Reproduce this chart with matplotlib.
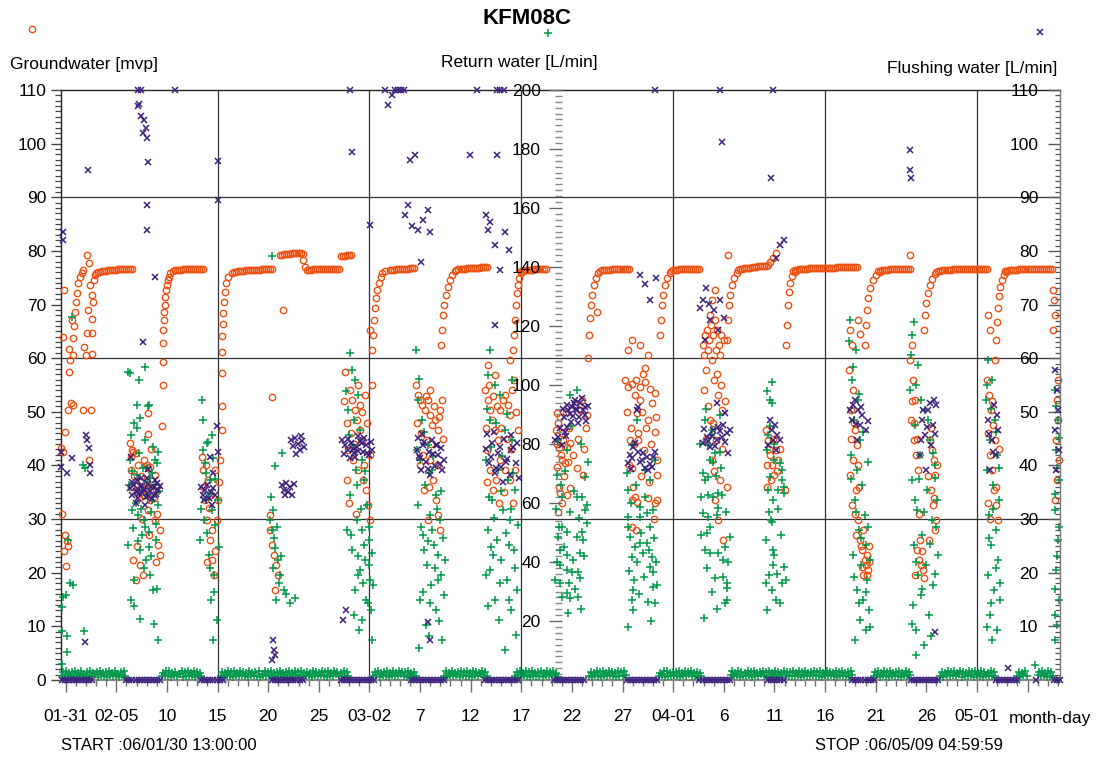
import matplotlib
matplotlib.use("Agg")
import matplotlib.pyplot as plt
from matplotlib.ticker import MultipleLocator, FixedLocator, FixedFormatter
from matplotlib.lines import Line2D
import matplotlib.font_manager as fm


def have(name):
    try:
        fm.findfont(fm.FontProperties(family=name), fallback_to_default=False)
        return True
    except Exception:
        return False


if have('Liberation Sans Narrow'):
    FAM, FS, TS = ['Liberation Sans Narrow', 'DejaVu Sans'], 14.5, 19
else:
    FAM, FS, TS = ['Liberation Sans', 'DejaVu Sans'], 12.5, 16
plt.rcParams['font.family'] = FAM

# ---------------- data (x = days since 2006-01-30 00:00) ----------------
x_start, x_stop = 0.5417, 99.2083           # 06/01/30 13:00 .. 06/05/09 05:00
major_days = [1, 6, 11, 16, 21, 26, 31, 36, 41, 46, 51, 56, 61, 66, 71, 76, 81, 86, 91, 96]
major_labels = ['01-31', '02-05', '10', '15', '20', '25', '03-02', '7', '12', '17', '22', '27',
                '04-01', '6', '11', '16', '21', '26', '05-01', '']
grid_days = [16, 31, 46, 61, 76, 91]
grid_levels = [30, 60, 90]

# Groundwater [mvp] : plateaus (recovered level)
gw_plateau = [
    (4.2, 76.0), (4.4, 76.1), (4.6, 76.2), (4.8, 76.3), (5.0, 76.3), (5.2, 76.4), (5.4, 76.4), (5.6, 76.5), (5.8, 76.5),
    (6.0, 76.5), (6.2, 76.6), (6.4, 76.6), (6.6, 76.6), (6.8, 76.6), (7.0, 76.7), (7.2, 76.7), (7.4, 76.7), (7.6, 76.7),
    (11.8, 76.4), (12.0, 76.5), (12.2, 76.5), (12.4, 76.5), (12.6, 76.6), (12.8, 76.6), (13.0, 76.6), (13.2, 76.6),
    (13.4, 76.7), (13.6, 76.7), (13.8, 76.7), (14.0, 76.7), (14.2, 76.7), (14.4, 76.7), (14.6, 76.7),
    (17.6, 76.0), (17.8, 76.1), (18.0, 76.2), (18.2, 76.2), (18.4, 76.3), (18.6, 76.3), (18.8, 76.4), (19.0, 76.4),
    (19.2, 76.4), (19.4, 76.5), (19.6, 76.5), (19.8, 76.5), (20.0, 76.5), (20.2, 76.5), (20.4, 76.6), (20.6, 76.6),
    (20.8, 76.6), (21.0, 76.6), (21.2, 76.6), (21.4, 76.6),
    (22.2, 79.2), (22.4, 79.3), (22.6, 79.4), (22.8, 79.5), (23.0, 79.5), (23.2, 79.5), (23.4, 79.6), (23.6, 79.6),
    (23.8, 79.6), (24.0, 79.6), (24.2, 79.6), (24.4, 79.5),
    (24.8, 76.5), (25.0, 76.5), (25.2, 76.5), (25.4, 76.6), (25.6, 76.6), (25.8, 76.6), (26.0, 76.6), (26.2, 76.6),
    (26.4, 76.6), (26.6, 76.6), (26.8, 76.6), (27.0, 76.6), (27.2, 76.6), (27.4, 76.7), (27.6, 76.7), (27.8, 76.7),
    (28.0, 76.7), (28.2, 79.0), (28.4, 79.1), (28.6, 79.1), (28.8, 79.2), (29.0, 79.2), (29.2, 79.2),
    (33.0, 76.4), (33.2, 76.5), (33.4, 76.5), (33.6, 76.6), (33.8, 76.6), (34.0, 76.6), (34.2, 76.7), (34.4, 76.7),
    (34.6, 76.7), (34.8, 76.7), (35.0, 76.8), (35.2, 76.8), (35.4, 76.8),
    (39.6, 76.5), (39.8, 76.6), (40.0, 76.6), (40.2, 76.7), (40.4, 76.7), (40.6, 76.8), (40.8, 76.8), (41.0, 76.8),
    (41.2, 76.9), (41.4, 76.9), (41.6, 76.9), (41.8, 76.9), (42.0, 77.0), (42.2, 77.0), (42.4, 77.0), (42.6, 77.0),
    (46.0, 76.2), (46.2, 76.3), (46.4, 76.4), (46.6, 76.4), (46.8, 76.5), (47.0, 76.5), (47.2, 76.5), (47.4, 76.6),
    (47.6, 76.6), (47.8, 76.6), (48.0, 76.6), (48.2, 76.6), (48.4, 76.6),
    (53.8, 76.3), (54.0, 76.4), (54.2, 76.4), (54.4, 76.5), (54.6, 76.5), (54.8, 76.5), (55.0, 76.6), (55.2, 76.6),
    (55.4, 76.6), (55.6, 76.6), (55.8, 76.6), (56.0, 76.7), (56.2, 76.7), (56.4, 76.7), (56.6, 76.7),
    (60.8, 76.3), (61.0, 76.4), (61.2, 76.5), (61.4, 76.5), (61.6, 76.6), (61.8, 76.6), (62.0, 76.6), (62.2, 76.7),
    (62.4, 76.7), (62.6, 76.7), (62.8, 76.7), (63.0, 76.7), (63.2, 76.7), (63.4, 76.7), (63.6, 76.7),
    (67.4, 76.5), (67.6, 76.6), (67.8, 76.7), (68.0, 76.8), (68.2, 76.8), (68.4, 76.9), (68.6, 76.9), (68.8, 77.0),
    (69.0, 77.0), (69.2, 77.0), (69.4, 77.1), (69.6, 77.1), (69.8, 77.1), (70.0, 77.2), (70.2, 77.2), (70.4, 77.3),
    (72.8, 76.3), (73.0, 76.4), (73.2, 76.5), (73.4, 76.6), (73.6, 76.6), (73.8, 76.7), (74.0, 76.7), (74.2, 76.7),
    (74.4, 76.8), (74.6, 76.8), (74.8, 76.8), (75.0, 76.8), (75.2, 76.8), (75.4, 76.9), (75.6, 76.9), (75.8, 76.9),
    (76.0, 76.9), (76.2, 76.9), (76.4, 76.9), (76.6, 76.9), (76.8, 76.9), (77.0, 76.9), (77.2, 77.0), (77.4, 77.0),
    (77.6, 77.0), (77.8, 77.0), (78.0, 77.0), (78.2, 77.0), (78.4, 77.0), (78.6, 77.0), (78.8, 77.0), (79.0, 77.0),
    (79.2, 77.0),
    (81.2, 76.2), (81.4, 76.3), (81.6, 76.4), (81.8, 76.5), (82.0, 76.5), (82.2, 76.5), (82.4, 76.6), (82.6, 76.6),
    (82.8, 76.6), (83.0, 76.6), (83.2, 76.6), (83.4, 76.7), (83.6, 76.7), (83.8, 76.7), (84.0, 76.7), (84.2, 76.7),
    (84.4, 76.7),
    (87.0, 76.1), (87.2, 76.2), (87.4, 76.3), (87.6, 76.4), (87.8, 76.4), (88.0, 76.5), (88.2, 76.5), (88.4, 76.5),
    (88.6, 76.6), (88.8, 76.6), (89.0, 76.6), (89.2, 76.6), (89.4, 76.6), (89.6, 76.6), (89.8, 76.7), (90.0, 76.7),
    (90.2, 76.7), (90.4, 76.7), (90.6, 76.7), (90.8, 76.7), (91.0, 76.7), (91.2, 76.7), (91.4, 76.7), (91.6, 76.7),
    (91.8, 76.7), (92.0, 76.7),
    (93.8, 76.2), (94.0, 76.3), (94.2, 76.4), (94.4, 76.4), (94.6, 76.5), (94.8, 76.5), (95.0, 76.5), (95.2, 76.6),
    (95.4, 76.6), (95.6, 76.6), (95.8, 76.6), (96.0, 76.6), (96.2, 76.6), (96.4, 76.6), (96.6, 76.6), (96.8, 76.6),
    (97.0, 76.6), (97.2, 76.6), (97.4, 76.6), (97.6, 76.6), (97.8, 76.6), (98.0, 76.6), (98.2, 76.6), (98.4, 76.6),
]

# Groundwater [mvp] : drawdown and recovery readings
gw_scatter = [
    (0.8, 72.7), (0.7, 64), (1.3, 61.7), (1.4, 59.7), (1.7, 60.6), (1.3, 57.4), (1.5, 51.6), (1.2, 50.3), (1.7, 51.3),
    (0.9, 46.2), (0.5, 43.2), (1.7, 63.7), (1.6, 67.1), (1.8, 66), (1.9, 68.6), (2.0, 70.5), (2.1, 72.1), (2.2, 74),
    (2.4, 75.1), (2.6, 75.9), (2.7, 76.4), (3.1, 79.2), (3.3, 77.7), (3.4, 73.6), (3.6, 71.8), (3.7, 70.5), (3.2, 69),
    (3.6, 67.3), (3.1, 64.7), (3.6, 64.7), (2.8, 62.1), (3.0, 60.6), (3.6, 60.8), (2.7, 50.3), (3.5, 50.3), (3.3, 41),
    (3.8, 74.5), (3.9, 75.5), (4.0, 75.9), (0.7, 42.5), (0.9, 27), (1.1, 26), (1.0, 21.3), (1.2, 25), (0.6, 31), (0.8, 24),
    (7.4, 44.2), (7.6, 42.9), (7.7, 42.5), (7.9, 42.3), (7.5, 41.6), (7.5, 39.1), (9.0, 40.1), (9.1, 39.5), (9.3, 39.7),
    (9.8, 38.2), (9.1, 49.8), (9.1, 45.9), (10.5, 47.3), (8.0, 36.4), (8.3, 35.4), (8.6, 34.5), (8.9, 35.8), (9.3, 33.6),
    (9.6, 35), (10.0, 36.2), (8.2, 33.9), (9.1, 31.7), (9.8, 29.8), (10.3, 28), (10.1, 25.2), (8.3, 21.4), (8.6, 19.6),
    (7.7, 22.4), (7.9, 18.6), (10.3, 23.3),
    (7.5, 36), (7.8, 38), (8.1, 40), (8.4, 38), (8.7, 41), (9.0, 37), (9.4, 43), (9.7, 34), (10.0, 31), (8.5, 30),
    (9.2, 27), (9.9, 22), (8.0, 25),
    (10.6, 62.8), (10.6, 59.3), (10.6, 55), (10.6, 65.2), (10.7, 67.1), (10.7, 68.6), (10.8, 69.9), (10.8, 71.4),
    (10.9, 72.7), (11.0, 73.6), (11.1, 74.6), (11.2, 75.1), (11.3, 75.9), (11.6, 76.3),
    (14.5, 41.6), (14.6, 39.1), (14.8, 33.6), (15.0, 29.8), (15.3, 26.1), (15.5, 22.4), (15.7, 19.6), (15.9, 29.8),
    (16.0, 33.6), (15.8, 39.1), (15.1, 37.3), (15.4, 34.5), (16.4, 51), (16.4, 57.2), (16.4, 61.2), (16.4, 46.6),
    (14.6, 36), (14.9, 40), (15.2, 32), (15.5, 28), (15.8, 24), (16.1, 37), (16.2, 41), (15.0, 22),
    (16.4, 64.1), (16.5, 66.4), (16.5, 68.4), (16.6, 70.5), (16.7, 72.3), (16.8, 74), (17.0, 75.1), (17.4, 75.9),
    (21.4, 52.8), (22.5, 69), (21.2, 28), (21.4, 25.2), (21.6, 23.3), (21.8, 21.4), (21.7, 16.8), (22.0, 19.6),
    (21.2, 30.8), (24.4, 78.3), (24.6, 77),
    (28.6, 57.4), (29.1, 54), (29.3, 52.2), (29.6, 50.3), (29.8, 48.5), (30.1, 46.6), (30.3, 44.7), (28.9, 42.9),
    (29.4, 41), (29.9, 39.1), (30.4, 37.3), (30.7, 35.4), (30.9, 32.6), (31.1, 29.8), (28.8, 37.3), (30.6, 53.1),
    (30.1, 51.3), (31.3, 55),
    (28.5, 52), (28.8, 48), (29.2, 46), (29.5, 44), (29.9, 55), (30.3, 50), (30.8, 48), (31.1, 42), (29.0, 33),
    (29.7, 31), (30.5, 40),
    (31.3, 61.5), (31.4, 64.3), (31.5, 67.1), (31.6, 69.4), (31.7, 71.2), (31.8, 72.7), (31.9, 74), (32.1, 75.1),
    (32.2, 75.9), (32.5, 76.2), (31.1, 65.2),
    (35.6, 55), (35.8, 53.1), (36.0, 52.2), (36.2, 51.3), (36.5, 50.3), (36.8, 52.2), (37.0, 49.4), (37.2, 47.5),
    (37.5, 48.5), (37.8, 46.6), (38.0, 50.3), (38.2, 52.2), (36.6, 44.7), (37.0, 41), (37.3, 37.3), (37.6, 33.6),
    (37.8, 30.8), (38.0, 28), (36.0, 40.1), (36.4, 35.4), (36.8, 29.8),
    (35.7, 48), (36.1, 46), (36.6, 53), (37.0, 54), (37.4, 51), (37.9, 49), (38.3, 45), (36.3, 42), (37.1, 44),
    (37.7, 40), (36.9, 36),
    (38.1, 62.5), (38.2, 65.2), (38.3, 68), (38.4, 69.9), (38.6, 71.8), (38.8, 73.3), (39.0, 74.6), (39.2, 75.5),
    (39.5, 76.2),
    (42.4, 54), (42.7, 52.2), (42.9, 50.3), (43.1, 48.5), (43.4, 46.6), (43.7, 44.7), (43.9, 50.3), (44.2, 52.2),
    (44.4, 53.1), (44.7, 51.3), (44.9, 49.4), (45.1, 54), (42.6, 42.9), (42.9, 39.1), (43.2, 35.4), (43.5, 37.3),
    (43.9, 41), (44.4, 39.1), (44.9, 37.3), (45.4, 39.1), (45.7, 46.6), (45.3, 55.9), (42.7, 58.7), (43.4, 56.9),
    (44.9, 59.7),
    (42.5, 47), (42.8, 55), (43.2, 53), (43.6, 51), (44.0, 47), (44.6, 45), (45.0, 43), (45.5, 50), (42.6, 37),
    (43.8, 33), (44.3, 35), (45.2, 33),
    (45.2, 61.5), (45.3, 64.3), (45.4, 67.1), (45.5, 69.9), (45.6, 72.1), (45.7, 73.6), (45.8, 74.9), (46.0, 75.9),
    (49.5, 49.8), (49.8, 49), (49.6, 47.9), (49.4, 46.6), (50.0, 46), (50.1, 44.7), (50.5, 43.4), (50.8, 44.2),
    (49.7, 43.3), (50.0, 41), (49.5, 39.7), (50.3, 40.5), (50.6, 40.6), (51.5, 39.5), (52.1, 38.2), (49.8, 34.9),
    (50.5, 34.5), (50.8, 35.8), (50.0, 33), (49.6, 31.3), (51.8, 50.3), (52.0, 52.2), (51.3, 51.3), (52.5, 49.4),
    (49.5, 44), (49.9, 42), (50.2, 38), (50.7, 47), (51.1, 42), (51.6, 45), (52.2, 43), (52.4, 47), (50.4, 50),
    (49.7, 36),
    (52.7, 64.3), (52.8, 67.5), (52.9, 69.9), (53.0, 71.8), (53.2, 73.6), (53.4, 74.9), (53.6, 75.9), (53.5, 68.6),
    (52.6, 60),
    (56.2, 55.9), (56.5, 54.6), (56.9, 55.2), (57.3, 55.9), (57.7, 54.6), (58.2, 55.5), (58.7, 54.2), (59.2, 53.5),
    (57.2, 53.1), (57.7, 52.2), (58.9, 51.6), (57.4, 49.8), (58.5, 48.5), (57.5, 44.7), (58.1, 42.9), (59.4, 41),
    (59.2, 46.2), (56.7, 44.7), (56.9, 39.5), (57.0, 36), (57.2, 34.1), (56.9, 33.6), (57.4, 33.2), (58.5, 33.9),
    (59.2, 33), (59.4, 33.6), (56.9, 28.5), (59.4, 38.2), (56.5, 61.5), (56.9, 63.4), (57.7, 62.5), (58.5, 60.6),
    (58.2, 58.2),
    (56.4, 50), (56.8, 47), (57.1, 44), (57.5, 46), (57.9, 50), (58.3, 47), (58.8, 44), (59.3, 49), (56.6, 40),
    (57.8, 38), (58.6, 37), (59.1, 30), (57.3, 28), (58.0, 57),
    (59.7, 64.3), (59.8, 67.1), (59.9, 69.9), (60.0, 71.8), (60.2, 73.6), (60.4, 74.9), (60.7, 75.9),
    (63.9, 62.5), (64.1, 64.3), (64.3, 65.2), (64.5, 63.4), (64.7, 66.2), (64.9, 64.3), (65.1, 67.1), (65.3, 65.2),
    (65.5, 62.5), (65.7, 64.3), (64.0, 60.6), (64.4, 61.5), (64.8, 59.7), (65.2, 61.5), (65.6, 60.6), (66.0, 63.4),
    (64.6, 68), (64.2, 57.8), (65.0, 55.9), (65.4, 53.1), (65.8, 50.3), (64.6, 48.5), (65.2, 44.7), (64.8, 41),
    (65.6, 37.3), (65.1, 33.6), (65.4, 29.8), (65.9, 26.1), (64.8, 70.8), (65.1, 72.7),
    (64.0, 54), (64.4, 51), (64.9, 48), (65.3, 57), (65.7, 55), (66.1, 52), (64.2, 45), (65.0, 39), (65.8, 43),
    (66.3, 36),
    (66.3, 63.4), (66.4, 67.1), (66.5, 69.9), (66.6, 71.8), (66.8, 73.6), (67.0, 74.9), (67.3, 75.9), (66.4, 79.2),
    (70.6, 77.9), (70.9, 78.7), (71.2, 79.6),
    (70.2, 46.6), (70.4, 44.7), (70.6, 41.9), (70.8, 40.1), (71.0, 38.2), (71.2, 42.9), (71.4, 41), (70.3, 40.1),
    (70.7, 37.3), (72.0, 35.4), (70.5, 43), (70.9, 45), (71.3, 39), (71.6, 43), (70.3, 36),
    (72.1, 62.5), (72.2, 66.2), (72.3, 69.9), (72.4, 72.3), (72.5, 74), (72.7, 75.3), (73.0, 76.1),
    (78.5, 65.2), (78.7, 62.5), (78.4, 57.8), (78.8, 54), (78.6, 50.3), (79.0, 46.6), (79.2, 43.8), (78.8, 41),
    (78.5, 38.2), (79.1, 35.4), (78.7, 32.6), (79.3, 29.8), (79.5, 26.1), (79.7, 24.2), (79.9, 22.4), (80.0, 21.4),
    (80.2, 20.5), (79.8, 19.6), (80.1, 23.3), (79.6, 25), (80.3, 22), (79.1, 27),
    (78.6, 45), (78.9, 48), (79.3, 40), (79.4, 36), (79.0, 31), (79.8, 28), (80.3, 25), (80.1, 19.5), (79.7, 21),
    (79.9, 62.5), (80.0, 66.2), (80.1, 69), (80.2, 71.2), (80.4, 73.1), (80.7, 74.6), (81.0, 75.5), (81.4, 76.1),
    (79.3, 67.1), (79.5, 64.5),
    (84.6, 62.5), (84.4, 59.7), (84.7, 55.9), (84.9, 52.2), (84.5, 48.5), (84.8, 44.7), (85.0, 41.9), (85.2, 39.1),
    (85.4, 26.1), (85.1, 24.2), (85.3, 22.4), (85.5, 21.4), (85.7, 20.5), (84.9, 19.6), (86.6, 42.9), (86.8, 41),
    (86.9, 38.2), (86.5, 35.4), (86.7, 32.6), (87.0, 29.8), (86.4, 44.7), (86.9, 28), (86.3, 26.1), (84.4, 79.2),
    (84.6, 52), (84.8, 48), (85.1, 45), (85.3, 31), (85.6, 24), (86.2, 38), (86.5, 47), (86.8, 34), (87.1, 40),
    (85.8, 19),
    (85.8, 65.2), (85.9, 68), (85.95, 70.3), (86.2, 72.1), (86.4, 73.6), (86.6, 74.8), (86.9, 75.7),
    (92.0, 55.9), (92.2, 53.1), (92.4, 50.3), (92.6, 47.5), (92.8, 44.7), (92.3, 41.9), (92.5, 39.1), (92.7, 35.4),
    (92.9, 32.6), (93.1, 29.8), (92.1, 33), (92.3, 65.2), (92.1, 68),
    (92.1, 46), (92.5, 52), (92.9, 36), (93.2, 43), (92.3, 30),
    (92.8, 59.7), (92.9, 63.4), (93.0, 66.7), (93.1, 69.4), (93.2, 71.6), (93.3, 73.3), (93.5, 74.6), (93.7, 75.5),
    (93.9, 76.1),
    (98.5, 72.7), (98.6, 70.8), (98.7, 68), (98.5, 65.2), (98.9, 52.2), (99.0, 48.5), (98.8, 44.7), (99.1, 41),
    (98.9, 37.3), (98.7, 33.6), (99.0, 55.9),
]

# Return water [L/min] : idle readings near zero
rw_idle = [
    (0.6, 1.4), (0.9, 1.1), (1.2, 1.7), (1.5, 1.3), (1.8, 0.9), (2.1, 1.6), (2.4, 1.2), (2.7, 1.8), (3.0, 1.0),
    (3.3, 1.5), (3.6, 1.3), (3.9, 1.9), (4.2, 1.1), (4.5, 1.6), (4.8, 1.4), (5.1, 0.9), (5.4, 1.7), (5.7, 1.2),
    (6.0, 1.5), (6.3, 1.0), (6.6, 1.8), (6.9, 1.3),
    (10.5, 1.2), (10.8, 1.7), (11.1, 1.4), (11.4, 1.0), (11.7, 1.6), (12.0, 1.3), (12.3, 1.9), (12.6, 1.1),
    (12.9, 1.5), (13.2, 1.2), (13.5, 1.8), (13.8, 1.0), (14.1, 1.6), (14.4, 1.3),
    (16.3, 1.5), (16.6, 1.1), (16.9, 1.8), (17.2, 1.3), (17.5, 1.0), (17.8, 1.7), (18.1, 1.2), (18.4, 1.6),
    (18.7, 1.4), (19.0, 0.9), (19.3, 1.8), (19.6, 1.3), (19.9, 1.5), (20.2, 1.1), (20.5, 1.7), (20.8, 1.2),
    (21.1, 1.6), (21.4, 1.0), (21.7, 1.5), (22.0, 1.3), (22.3, 1.9), (22.6, 1.2), (22.9, 1.6), (23.2, 1.0),
    (23.5, 1.4), (23.8, 1.8), (24.1, 1.1), (24.4, 1.5), (24.7, 1.3), (25.0, 1.7), (25.3, 1.0), (25.6, 1.6),
    (25.9, 1.2), (26.2, 1.8), (26.5, 1.4), (26.8, 1.1), (27.1, 1.6), (27.4, 1.3), (27.7, 1.9), (28.0, 1.2),
    (28.3, 1.5), (28.6, 1.0), (28.9, 1.4),
    (31.4, 1.3), (31.7, 1.8), (32.0, 1.1), (32.3, 1.6), (32.6, 1.4), (32.9, 1.0), (33.2, 1.7), (33.5, 1.2),
    (33.8, 1.5), (34.1, 1.9), (34.4, 1.3), (34.7, 1.1), (35.0, 1.6), (35.3, 1.4), (35.6, 1.2),
    (38.4, 1.4), (38.7, 1.0), (39.0, 1.7), (39.3, 1.3), (39.6, 1.6), (39.9, 1.1), (40.2, 1.8), (40.5, 1.2),
    (40.8, 1.5), (41.1, 1.0), (41.4, 1.6), (41.7, 1.3), (42.0, 1.9), (42.3, 1.2), (42.6, 1.5),
    (45.4, 1.2), (45.7, 1.6), (46.0, 1.0), (46.3, 1.7), (46.6, 1.4), (46.9, 1.1), (47.2, 1.8), (47.5, 1.3),
    (47.8, 1.5), (48.1, 1.0), (48.4, 1.6), (48.7, 1.2), (49.0, 1.9), (49.3, 1.4), (49.6, 1.1),
    (52.7, 1.5), (53.0, 1.1), (53.3, 1.7), (53.6, 1.3), (53.9, 1.0), (54.2, 1.6), (54.5, 1.2), (54.8, 1.8),
    (55.1, 1.4), (55.4, 1.1), (55.7, 1.5), (56.0, 1.3), (56.3, 1.7),
    (59.6, 1.3), (59.9, 1.7), (60.2, 1.0), (60.5, 1.5), (60.8, 1.2), (61.1, 1.8), (61.4, 1.4), (61.7, 1.1),
    (62.0, 1.6), (62.3, 1.3), (62.6, 1.9), (62.9, 1.2), (63.2, 1.5), (63.5, 1.0), (63.8, 1.4),
    (66.7, 1.6), (67.0, 1.2), (67.3, 1.8), (67.6, 1.0), (67.9, 1.5), (68.2, 1.3), (68.5, 1.7), (68.8, 1.1),
    (69.1, 1.6), (69.4, 1.4), (69.7, 1.9), (70.0, 1.2), (70.3, 1.5), (70.6, 1.0), (70.9, 1.7), (71.2, 1.3),
    (71.5, 1.6), (71.8, 1.1), (72.1, 1.8), (72.4, 1.2), (72.7, 1.5), (73.0, 1.3), (73.3, 1.7), (73.6, 1.0),
    (73.9, 1.6), (74.2, 1.4), (74.5, 1.2), (74.8, 1.8), (75.1, 1.3), (75.4, 1.5), (75.7, 1.1), (76.0, 1.7),
    (76.3, 1.2), (76.6, 1.6), (76.9, 1.4), (77.2, 1.0), (77.5, 1.8), (77.8, 1.3), (78.1, 1.5), (78.4, 1.1),
    (78.7, 1.6),
    (80.8, 1.2), (81.1, 1.6), (81.4, 1.0), (81.7, 1.7), (82.0, 1.4), (82.3, 1.1), (82.6, 1.8), (82.9, 1.3),
    (83.2, 1.5), (83.5, 1.0), (83.8, 1.6), (84.1, 1.3), (84.4, 1.7),
    (87.4, 1.4), (87.7, 1.0), (88.0, 1.7), (88.3, 1.2), (88.6, 1.6), (88.9, 1.3), (89.2, 1.9), (89.5, 1.1),
    (89.8, 1.5), (90.1, 1.2), (90.4, 1.8), (90.7, 1.0), (91.0, 1.6), (91.3, 1.4), (91.6, 1.1), (91.9, 1.7),
    (92.2, 1.3), (92.5, 1.5), (92.8, 1.2),
    (95.0, 1.5), (95.3, 1.1), (95.6, 1.7), (95.9, 1.3),
    (97.0, 1.6), (97.3, 1.2), (97.6, 1.8), (97.9, 1.0), (98.2, 1.5), (98.5, 1.3),
]

# Return water [L/min] : second row of idle readings (slightly higher)
rw_idle_hi = [
    (0.75, 2.6), (1.05, 3.0), (1.35, 2.3), (1.65, 2.8), (1.95, 3.2), (2.25, 2.5), (2.55, 2.9), (2.85, 2.2),
    (3.15, 2.7), (3.45, 3.1), (3.75, 2.4), (4.05, 2.8), (4.35, 3.0), (4.65, 2.3), (4.95, 2.7), (5.25, 3.2),
    (5.55, 2.5), (5.85, 2.9), (6.15, 2.2), (6.45, 2.8), (6.75, 3.0),
    (10.65, 2.5), (10.95, 2.9), (11.25, 3.1), (11.55, 2.4), (11.85, 2.8), (12.15, 2.2), (12.45, 3.0),
    (12.75, 2.6), (13.05, 2.9), (13.35, 2.3), (13.65, 3.1), (13.95, 2.7), (14.25, 2.5),
    (16.45, 2.8), (16.75, 2.4), (17.05, 3.1), (17.35, 2.6), (17.65, 2.9), (17.95, 2.3), (18.25, 3.0),
    (18.55, 2.7), (18.85, 2.5), (19.15, 3.2), (19.45, 2.4), (19.75, 2.8), (20.05, 3.0), (20.35, 2.2),
    (20.65, 2.9), (20.95, 2.6), (21.25, 3.1), (21.55, 2.4), (21.85, 2.7), (22.15, 3.0), (22.45, 2.5),
    (22.75, 2.8), (23.05, 3.2), (23.35, 2.3), (23.65, 2.9), (23.95, 2.6), (24.25, 3.0), (24.55, 2.4),
    (24.85, 2.8), (25.15, 2.5), (25.45, 3.1), (25.75, 2.7), (26.05, 2.3), (26.35, 3.0), (26.65, 2.6),
    (26.95, 2.9), (27.25, 2.4), (27.55, 3.1), (27.85, 2.7), (28.15, 2.5), (28.45, 2.9), (28.75, 2.6),
    (31.55, 2.7), (31.85, 3.0), (32.15, 2.4), (32.45, 2.8), (32.75, 3.2), (33.05, 2.5), (33.35, 2.9),
    (33.65, 2.3), (33.95, 3.0), (34.25, 2.6), (34.55, 2.8), (34.85, 3.1), (35.15, 2.4), (35.45, 2.7),
    (38.55, 2.9), (38.85, 2.5), (39.15, 3.0), (39.45, 2.3), (39.75, 2.8), (40.05, 3.1), (40.35, 2.6),
    (40.65, 2.9), (40.95, 2.4), (41.25, 3.0), (41.55, 2.7), (41.85, 2.5), (42.15, 3.2), (42.45, 2.6),
    (45.55, 2.6), (45.85, 3.0), (46.15, 2.4), (46.45, 2.9), (46.75, 2.7), (47.05, 3.1), (47.35, 2.3),
    (47.65, 2.8), (47.95, 3.0), (48.25, 2.5), (48.55, 2.9), (48.85, 2.6), (49.15, 3.1), (49.45, 2.4),
    (52.85, 2.8), (53.15, 2.4), (53.45, 3.0), (53.75, 2.6), (54.05, 2.9), (54.35, 2.3), (54.65, 3.1),
    (54.95, 2.7), (55.25, 2.5), (55.55, 3.0), (55.85, 2.6), (56.15, 2.9),
    (59.75, 2.5), (60.05, 2.9), (60.35, 3.1), (60.65, 2.4), (60.95, 2.8), (61.25, 2.6), (61.55, 3.0),
    (61.85, 2.3), (62.15, 2.9), (62.45, 2.7), (62.75, 3.1), (63.05, 2.5), (63.35, 2.8), (63.65, 2.4),
    (66.85, 2.9), (67.15, 2.5), (67.45, 3.0), (67.75, 2.7), (68.05, 2.4), (68.35, 3.1), (68.65, 2.6),
    (68.95, 2.9), (69.25, 2.3), (69.55, 2.8), (69.85, 3.0), (70.15, 2.6), (70.45, 2.9), (70.75, 2.4),
    (71.05, 3.1), (71.35, 2.7), (71.65, 2.5), (71.95, 3.0), (72.25, 2.6), (72.55, 2.8), (72.85, 3.2),
    (73.15, 2.4), (73.45, 2.9), (73.75, 2.7), (74.05, 3.0), (74.35, 2.5), (74.65, 2.8), (74.95, 3.1),
    (75.25, 2.6), (75.55, 2.9), (75.85, 2.4), (76.15, 3.0), (76.45, 2.7), (76.75, 2.5), (77.05, 3.1),
    (77.35, 2.6), (77.65, 2.9), (77.95, 2.3), (78.25, 2.8), (78.55, 3.0),
    (80.95, 2.6), (81.25, 3.0), (81.55, 2.4), (81.85, 2.9), (82.15, 2.7), (82.45, 3.1), (82.75, 2.5),
    (83.05, 2.8), (83.35, 3.0), (83.65, 2.4), (83.95, 2.9), (84.25, 2.6),
    (87.55, 2.8), (87.85, 2.5), (88.15, 3.1), (88.45, 2.6), (88.75, 2.9), (89.05, 2.3), (89.35, 3.0),
    (89.65, 2.7), (89.95, 2.5), (90.25, 3.1), (90.55, 2.6), (90.85, 2.9), (91.15, 2.4), (91.45, 3.0),
    (91.75, 2.7), (92.05, 2.5), (92.35, 2.9), (92.65, 2.6),
    (95.15, 2.8), (95.45, 2.5), (95.75, 3.0),
    (97.15, 2.7), (97.45, 3.0), (97.75, 2.4), (98.05, 2.9), (98.35, 2.6),
]

# Return water [L/min] : flow during drilling
rw_flow = [
    (0.6, 24.7), (0.7, 28), (1.0, 28.8), (0.6, 16.6), (1.1, 15), (1.1, 9.5), (0.6, 5.4), (2.8, 16.6), (1.4, 32.9),
    (1.7, 32.2), (1.6, 123), (1.2, 47.5), (2.7, 72.9), (2.9, 71.9),
    (7.2, 104.4), (8.2, 101.7), (9.1, 92.9), (8.3, 88.8), (8.8, 81.4), (7.4, 74.6), (8.0, 69.5), (9.3, 68.5),
    (9.8, 66.1), (8.5, 64.4), (9.0, 62.7), (9.5, 61), (10.1, 59.3), (7.6, 57.6), (8.1, 55.9), (8.7, 54.2),
    (7.7, 51.5), (9.2, 50.2), (9.9, 47.5), (7.2, 45.8), (8.3, 44.1), (8.9, 40.7), (9.3, 35.6), (7.8, 33.9),
    (9.6, 30.5), (7.5, 27.1), (8.3, 20.7), (10.1, 13.6), (8.5, 49.2), (7.4, 104), (8.8, 106), (8.0, 93.2),
    (9.2, 93.2), (7.8, 87), (8.0, 85.4), (10.1, 77.3), (9.8, 74.6), (10.0, 73.6), (9.0, 71.9), (9.5, 70.2),
    (7.3, 66), (7.6, 71), (7.9, 60), (8.2, 77), (8.4, 58), (8.6, 72), (8.8, 52), (9.0, 67), (9.2, 45), (9.4, 57),
    (9.6, 79), (9.9, 53), (10.2, 64), (7.5, 83), (8.1, 47), (8.7, 38), (9.4, 42), (10.0, 31), (7.8, 25), (9.7, 19),
    (14.5, 94.9), (15.0, 80.3), (14.6, 78), (14.8, 73.6), (15.6, 75.3), (15.1, 80.7), (15.3, 67.8), (14.9, 61),
    (15.5, 57.6), (15.8, 52.5), (14.3, 47.5), (15.2, 42.4), (15.7, 35.6), (15.4, 27.1), (15.9, 20.3), (15.6, 13.6),
    (16.0, 61), (14.7, 54.2),
    (14.6, 88), (14.9, 70), (15.2, 63), (15.5, 83), (15.8, 68), (16.1, 45), (14.4, 58), (15.0, 50), (15.3, 38),
    (15.7, 30),
    (21.4, 143.7), (22.4, 77), (21.7, 72.5), (21.2, 54.2), (21.4, 50.8), (21.7, 44.7), (22.0, 40.7), (22.2, 35.6),
    (22.6, 30.5), (21.8, 27.1), (23.2, 26.1), (23.7, 27.8), (21.5, 57.6),
    (21.3, 62), (21.6, 48), (21.9, 52), (22.3, 42), (21.5, 38), (22.1, 33), (22.8, 29),
    (29.1, 111), (29.3, 105), (29.6, 101.7), (29.9, 96.6), (28.9, 91.5), (30.1, 84.7), (29.4, 79.7), (30.3, 74.6),
    (29.7, 71.2), (30.5, 67.8), (29.1, 62.7), (30.8, 59.3), (29.8, 54.2), (30.3, 50.8), (31.0, 47.5), (29.3, 44.1),
    (30.6, 40.7), (30.1, 37.3), (31.1, 33.9), (29.6, 30.5), (30.7, 27.1), (30.3, 20.3), (31.3, 13.6), (31.0, 39),
    (29.9, 35.6), (31.4, 32.2), (30.5, 45.8), (28.8, 50.8), (31.2, 23.7),
    (28.7, 98), (29.0, 83), (29.5, 88), (29.8, 66), (30.2, 58), (30.6, 71), (31.0, 52), (29.2, 49), (29.9, 42),
    (30.4, 33), (30.9, 26), (31.3, 43), (29.5, 22), (30.0, 17),
    (35.6, 111.9), (35.8, 94.9), (36.2, 88.1), (36.8, 79.7), (36.0, 74.6), (37.2, 71.2), (36.5, 66.1), (37.6, 62.7),
    (35.8, 59.3), (37.0, 55.9), (38.0, 54.2), (36.3, 49.2), (37.4, 45.8), (37.8, 42.4), (36.7, 39), (38.1, 35.6),
    (37.1, 32.2), (38.4, 28.8), (36.0, 27.1), (37.6, 23.7), (36.6, 18.6), (38.2, 13.6), (37.2, 50.8), (36.4, 44.1),
    (37.8, 33.9), (38.5, 40.7), (35.7, 78), (35.9, 10.8),
    (35.9, 102), (36.4, 84), (36.9, 70), (37.3, 76), (37.7, 58), (38.1, 64), (36.1, 52), (36.8, 47), (37.5, 38),
    (38.3, 48), (36.3, 30), (37.0, 26), (37.9, 20), (36.9, 15),
    (42.7, 103.4), (43.4, 100), (43.9, 96.6), (42.9, 88.1), (44.4, 84.7), (45.1, 81.4), (42.5, 74.6), (43.7, 71.2),
    (44.7, 67.8), (45.4, 64.4), (43.1, 61), (44.2, 57.6), (44.9, 54.2), (42.7, 50.8), (43.6, 47.5), (45.3, 44.1),
    (44.0, 40.7), (42.9, 37.3), (44.6, 33.9), (45.6, 30.5), (43.4, 27.1), (45.0, 23.7), (43.8, 20.3), (45.5, 15.3),
    (44.4, 10.2), (42.5, 35.6), (43.2, 42.4), (44.8, 45.8), (45.7, 52.5), (45.1, 101.7), (42.9, 111.9),
    (42.6, 92), (43.0, 79), (43.5, 87), (44.1, 76), (44.6, 90), (45.2, 70), (42.8, 62), (43.3, 55), (44.0, 64),
    (44.5, 50), (45.0, 58), (43.0, 45), (43.9, 33), (44.8, 27), (45.4, 38), (42.7, 25),
    (51.5, 98.3), (50.8, 96.6), (49.6, 81.4), (50.5, 78), (52.6, 73.9), (52.3, 68.8), (49.5, 69.5), (50.0, 62),
    (51.5, 62), (52.0, 62), (52.5, 59.3), (52.3, 57.6), (50.0, 51.9), (50.5, 50.2), (49.6, 48.5), (51.5, 48.5),
    (52.0, 50.2), (52.1, 47.5), (49.8, 44.1), (50.5, 42.4), (51.1, 40.7), (51.8, 43), (49.8, 39), (50.5, 37.3),
    (51.0, 36.6), (51.6, 36.6), (51.8, 34.6), (49.8, 32.9), (50.5, 29.5), (50.8, 27.8), (50.0, 28.1), (51.6, 28.1),
    (50.6, 22.7), (52.5, 53.2), (49.3, 33.9),
    (49.4, 58), (49.9, 66), (50.3, 71), (50.8, 57), (51.2, 64), (51.7, 55), (52.2, 42), (49.7, 52), (50.2, 45),
    (50.7, 33), (51.3, 31), (51.9, 24), (49.5, 40), (50.9, 86), (51.9, 80),
    (56.5, 51.9), (56.7, 48.5), (57.2, 45.1), (57.7, 46.4), (58.0, 43), (56.9, 41.7), (57.4, 40), (58.9, 41.7),
    (58.7, 38.3), (59.0, 36.6), (58.4, 46.4), (57.0, 30.5), (56.9, 27.1), (57.0, 23.7), (58.5, 26.4), (59.2, 26.1),
    (59.0, 31.5), (59.4, 32.2), (57.7, 55.3), (56.5, 55.3), (57.7, 58.6), (58.4, 56.6), (59.0, 57.6), (58.7, 51.9),
    (56.5, 18), (56.9, 79.7), (58.2, 71.2), (59.2, 74.6), (56.5, 64.4), (58.7, 67.8),
    (56.4, 70), (56.8, 60), (57.3, 66), (57.8, 50), (58.2, 62), (58.6, 44), (59.1, 48), (56.6, 37), (57.1, 34),
    (57.6, 29), (58.1, 35), (58.8, 20), (59.3, 40), (57.4, 88),
    (63.9, 70.2), (64.4, 68.8), (64.1, 67.8), (64.9, 73.9), (65.6, 77.3), (65.1, 77), (64.6, 74.6), (63.8, 62),
    (64.4, 62.7), (64.9, 62), (65.4, 63.4), (65.8, 62.7), (63.9, 56.6), (64.4, 55.3), (65.3, 55.9), (65.4, 58.3),
    (66.6, 48.5), (64.1, 44.1), (64.6, 43), (65.4, 43), (66.1, 45.1), (65.9, 40.7), (65.1, 34.6), (66.3, 32.9),
    (66.3, 31.2), (66.3, 27.1), (66.1, 26.1), (64.6, 51.9), (64.3, 49.8), (64.1, 88.1), (64.8, 84.7), (65.6, 89.8),
    (64.4, 79.7),
    (63.7, 80), (64.2, 92), (64.7, 83), (65.2, 69), (65.7, 72), (66.2, 57), (63.8, 49), (64.3, 38), (64.8, 30),
    (65.3, 24), (65.9, 35), (66.4, 40), (64.0, 21),
    (70.8, 101), (70.6, 94.9), (70.8, 93.9), (70.4, 83), (70.6, 68.8), (71.6, 73.6), (71.8, 71.2), (71.8, 67.8),
    (71.9, 65.4), (71.4, 64.4), (71.9, 63.4), (70.8, 53.6), (70.9, 44.1), (71.9, 38.3), (72.1, 33.9), (71.8, 32.9),
    (70.3, 78), (71.0, 74.6), (70.4, 64.4), (70.9, 61), (70.7, 54.2), (70.2, 47.5), (71.0, 42.4), (70.5, 35.6),
    (70.8, 30.5), (71.2, 27.1), (70.3, 23.7),
    (70.3, 98), (70.6, 86), (71.0, 80), (71.4, 58), (71.7, 49), (70.5, 57), (70.9, 39), (71.3, 36), (71.6, 26),
    (70.2, 33),
    (78.5, 122), (79.1, 111.9), (78.7, 101.7), (79.3, 94.9), (78.9, 88.1), (79.5, 81.4), (78.6, 76.3), (79.2, 71.2),
    (79.7, 66.1), (79.0, 61), (79.9, 55.9), (79.4, 50.8), (80.0, 45.8), (78.8, 42.4), (79.6, 39), (80.1, 33.9),
    (79.2, 30.5), (79.8, 27.1), (80.3, 23.7), (79.5, 20.3), (80.0, 16.9), (79.0, 13.6), (80.4, 40.7),
    (78.4, 115), (78.8, 106), (79.4, 97), (79.8, 84), (80.2, 74), (78.6, 68), (79.1, 57), (79.6, 48), (80.2, 52),
    (78.9, 35), (79.4, 26), (80.0, 30), (80.4, 18),
    (84.8, 121.4), (84.6, 117), (85.2, 106.8), (84.4, 98.3), (85.9, 91.5), (84.9, 86.4), (86.4, 81.4), (85.4, 76.3),
    (86.9, 72.9), (84.6, 67.8), (86.1, 64.4), (87.1, 61), (85.1, 57.6), (86.6, 54.2), (85.6, 49.2), (84.8, 45.8),
    (87.2, 42.4), (86.0, 39), (85.2, 35.6), (86.7, 32.2), (85.5, 28.8), (84.7, 25.4), (86.3, 22), (85.0, 16.9),
    (85.8, 11.9), (85.0, 8.5), (86.9, 68.5),
    (84.5, 110), (85.0, 100), (85.5, 95), (86.2, 88), (86.7, 77), (85.3, 68), (84.9, 61), (85.8, 57), (86.4, 46),
    (85.0, 40), (86.9, 36), (85.6, 31), (84.6, 19), (86.5, 15), (87.0, 52),
    (92.1, 108.5), (92.5, 101.7), (91.9, 94.9), (92.8, 88.1), (92.3, 81.4), (93.0, 76.3), (92.0, 71.2), (92.6, 66.1),
    (93.2, 61), (92.2, 55.9), (92.9, 50.8), (92.4, 45.8), (93.1, 40.7), (92.1, 35.6), (92.7, 30.5), (93.3, 27.1),
    (92.3, 22), (93.0, 16.9), (92.5, 13.6),
    (92.0, 100), (92.4, 92), (92.9, 84), (93.2, 72), (92.6, 58), (92.2, 48), (92.9, 38), (93.3, 33), (92.4, 26),
    (92.0, 18),
    (98.7, 98.3), (99.0, 88.1), (98.8, 78), (99.1, 67.8), (98.7, 57.6), (99.0, 47.5), (98.8, 37.3), (99.1, 27.1),
    (98.9, 18.6), (98.7, 13.6), (98.7, 22), (96.7, 5.1),
    (98.8, 93), (99.1, 82), (98.9, 72), (98.7, 63), (99.1, 52), (98.9, 42), (98.7, 31),
]

# Flushing water [L/min] : zero readings
fw_zero = [
    (0.6, 0), (0.9, 0), (1.2, 0), (1.5, 0), (1.8, 0), (2.1, 0), (2.4, 0), (2.7, 0), (3.0, 0), (3.3, 0), (3.6, 0),
    (7.0, 0), (7.3, 0), (7.6, 0), (7.9, 0), (8.2, 0), (8.5, 0), (8.8, 0), (9.1, 0), (9.4, 0), (9.7, 0), (10.0, 0), (10.3, 0),
    (14.4, 0), (14.7, 0), (15.0, 0), (15.3, 0), (15.6, 0), (15.9, 0), (16.2, 0), (16.5, 0),
    (21.4, 0), (21.7, 0), (22.0, 0), (22.3, 0), (22.6, 0), (22.9, 0), (23.2, 0), (23.5, 0), (23.8, 0), (24.1, 0), (24.4, 0),
    (28.2, 0), (28.5, 0), (28.8, 0), (29.1, 0), (29.4, 0), (29.7, 0), (30.0, 0), (30.3, 0), (30.6, 0), (30.9, 0), (31.2, 0), (31.5, 0),
    (35.1, 0), (35.4, 0), (35.7, 0), (36.0, 0), (36.3, 0), (36.6, 0), (36.9, 0), (37.2, 0), (37.5, 0), (37.8, 0), (38.1, 0), (38.4, 0),
    (42.4, 0), (42.7, 0), (43.0, 0), (43.3, 0), (43.6, 0), (43.9, 0), (44.2, 0), (44.5, 0), (44.8, 0), (45.1, 0), (45.4, 0), (45.7, 0),
    (49.2, 0), (49.5, 0), (49.8, 0), (50.1, 0), (50.4, 0), (50.7, 0), (51.0, 0), (51.3, 0), (51.6, 0), (51.9, 0), (52.2, 0),
    (56.4, 0), (56.7, 0), (57.0, 0), (57.3, 0), (57.6, 0), (57.9, 0), (58.2, 0), (58.5, 0), (58.8, 0), (59.1, 0), (59.4, 0),
    (63.6, 0), (63.9, 0), (64.2, 0), (64.5, 0), (64.8, 0), (65.1, 0), (65.4, 0), (65.7, 0), (66.0, 0), (66.3, 0), (66.6, 0),
    (70.4, 0), (70.7, 0), (71.0, 0), (71.3, 0), (71.6, 0), (71.9, 0),
    (78.7, 0), (79.0, 0), (79.3, 0), (79.6, 0), (79.9, 0), (80.2, 0), (80.5, 0), (80.8, 0),
    (84.5, 0), (84.8, 0), (85.1, 0), (85.4, 0), (85.7, 0), (86.0, 0), (86.3, 0), (86.6, 0), (86.9, 0), (87.2, 0),
    (92.9, 0), (93.2, 0), (93.5, 0), (93.8, 0), (94.1, 0), (94.4, 0), (94.7, 0), (95.0, 0),
    (96.8, 0), (98.6, 0), (98.9, 0), (99.2, 0),
]

# Flushing water [L/min] : flow during drilling
fw_flow = [
    (0.7, 83.5), (0.7, 82), (3.2, 95.1), (0.5, 42.5), (1.6, 41.4), (1.1, 38.6), (0.5, 39.7), (3.4, 40.1), (3.4, 38.6),
    (2.9, 7.1), (3.1, 44.7), (3.3, 43.2), (3.0, 45.7),
    (7.4, 35.8), (7.6, 34.5), (7.8, 36.4), (8.0, 35), (8.1, 33.9), (8.3, 36.2), (8.5, 34.9), (8.7, 35.6), (8.9, 34.1),
    (9.1, 36.5), (9.3, 35.2), (9.5, 33.7), (9.7, 36), (9.9, 34.7), (10.1, 35.4), (10.3, 36.2), (7.9, 33), (8.8, 32.6),
    (9.8, 37.3), (8.4, 37.7), (7.5, 41.6), (9.1, 39.3),
    (7.6, 36.9), (7.9, 35.2), (8.2, 34.8), (8.5, 36.2), (8.8, 35.5), (9.1, 34.3), (9.4, 35.9), (9.7, 34.4),
    (10.0, 36.7), (8.0, 37.2), (9.0, 37.6),
    (8.1, 110), (8.4, 110), (8.1, 107), (8.2, 107.4), (8.4, 105.1), (8.7, 104.4), (8.9, 102.9), (8.6, 102), (9.0, 101),
    (9.1, 96.6), (9.0, 88.6), (9.0, 83.9), (9.8, 75.1), (8.6, 63), (11.8, 110), (16.0, 96.7), (16.0, 89.5),
    (14.4, 36), (14.6, 34.5), (14.8, 35.4), (15.0, 36.4), (15.2, 34), (15.4, 35), (15.6, 35.8), (15.8, 34.5),
    (14.7, 33.6), (15.5, 32.6), (15.9, 47.4), (15.3, 41.6), (15.6, 38.6), (16.0, 42.5),
    (22.4, 36.4), (22.6, 35.4), (22.8, 36.7), (23.0, 35), (23.2, 36), (23.4, 34.5), (23.6, 36.6), (22.7, 34.5),
    (23.3, 44.7), (23.5, 43.6), (23.7, 45.1), (23.9, 44), (24.1, 42.9), (24.3, 44.5), (24.5, 43.4), (23.8, 42.2),
    (24.2, 45.5), (21.5, 7.5), (21.6, 5.6), (21.7, 4.7), (21.4, 3.7),
    (28.3, 44.7), (28.6, 43.8), (28.9, 42.9), (29.2, 44.2), (29.5, 42.3), (29.8, 43.4), (30.1, 44.5), (30.4, 42.6),
    (30.7, 43.8), (31.0, 41.9), (31.3, 42.9), (29.1, 41.4), (29.9, 45.5), (30.5, 45.1), (29.1, 110), (29.3, 98.4),
    (31.1, 84.8), (28.4, 11.2), (28.7, 13),
    (28.5, 42.2), (28.9, 44.9), (29.4, 43.1), (29.9, 42.7), (30.3, 44.1), (30.8, 42.4), (31.2, 44.4), (29.6, 41.6),
    (35.7, 42.9), (36.0, 41.4), (36.3, 43.8), (36.6, 40.6), (36.9, 42.5), (37.2, 44.7), (37.5, 39.9), (37.8, 42),
    (38.1, 43.2), (38.4, 41), (36.1, 39.1), (37.0, 38.2), (37.6, 43.8), (35.8, 45.1), (38.2, 39.1),
    (35.9, 41.7), (36.4, 44.3), (36.8, 39.4), (37.3, 42.2), (37.7, 43.9), (38.0, 40.3), (36.2, 45.8),
    (32.5, 110), (32.8, 107.2), (33.2, 109), (33.5, 110), (33.8, 110), (34.1, 110), (34.4, 110), (35.0, 96.9),
    (35.5, 97.9), (34.8, 88.6), (34.5, 86.7), (35.2, 84.6), (35.8, 83.9), (36.3, 85.8), (36.8, 87.6), (37.0, 83.5),
    (36.1, 77.9), (36.8, 10.8), (37.0, 7.5),
    (42.5, 43), (42.8, 40.5), (43.1, 44.2), (43.4, 38.6), (43.7, 42.3), (44.0, 39.8), (44.3, 44.9), (44.6, 41.2),
    (44.9, 38.2), (45.2, 43.5), (45.5, 40.4), (45.8, 37.6), (43.3, 46.2), (44.2, 36.9), (45.0, 45.6),
    (42.6, 45.8), (43.0, 41.6), (43.5, 39.6), (43.9, 43.4), (44.5, 40.6), (45.0, 42.8), (45.6, 44.1),
    (41.6, 110), (43.6, 110), (43.9, 110), (44.3, 110), (40.9, 97.9), (43.6, 97.9), (42.5, 86.7), (42.9, 85.4),
    (42.7, 83.9), (43.4, 81.1), (44.4, 83.5), (44.8, 80.2), (43.9, 76.4), (43.4, 66.2),
    (51.5, 50.3), (50.5, 51.3), (51.8, 51.6), (51.0, 50.9), (52.1, 50.3), (52.3, 49.4), (51.3, 52.2), (50.8, 49.6),
    (52.6, 51), (50.1, 50.5), (49.6, 45.3), (49.3, 44.7), (50.0, 43.8), (50.5, 47.2), (51.6, 47.9), (51.1, 49.3),
    (50.3, 46.2), (49.8, 46.9), (52.4, 48.2),
    (50.2, 49.1), (50.6, 50.4), (51.2, 51.7), (51.7, 49.0), (52.0, 52.6), (50.9, 48.1), (51.4, 50.6), (52.3, 50.9),
    (50.4, 45.4),
    (57.2, 44.2), (57.5, 42.5), (57.9, 41), (58.2, 39.5), (58.5, 39.1), (58.9, 39.7), (58.4, 41.6), (59.0, 41.6),
    (56.9, 41.4), (56.5, 40.5), (56.7, 41.9), (57.4, 50.3), (57.5, 50.9), (57.7, 75.5), (58.2, 73.8), (58.7, 70.8),
    (59.3, 75), (59.2, 110),
    (57.0, 43.4), (57.7, 40.6), (58.0, 42.3), (58.7, 40.2), (59.2, 42.6), (56.8, 39.4),
    (63.9, 44.2), (64.6, 43.4), (65.3, 44.7), (65.8, 45.3), (66.3, 46), (64.9, 46.6), (65.4, 47.2), (65.9, 47.5),
    (66.6, 46.6), (64.3, 45.3), (66.4, 42.3), (65.3, 51.6), (66.1, 49.8),
    (64.4, 44.6), (64.8, 45.5), (65.1, 43.6), (65.6, 46.4), (66.1, 44.4), (64.0, 46.8),
    (63.9, 70.8), (64.2, 73.1), (64.6, 67.1), (65.0, 69), (65.4, 65.2), (64.1, 63.4), (64.5, 70.1), (65.6, 70.8),
    (66.0, 67.5), (63.7, 69.3), (65.6, 110), (65.8, 100.3),
    (70.6, 48.5), (70.8, 46.6), (71.1, 47.5), (71.3, 45.7), (71.6, 44.7), (70.4, 43.8), (70.9, 44.7), (71.2, 42.9),
    (70.9, 110), (70.7, 93.6), (71.9, 82), (71.6, 81.1), (71.2, 78.7),
    (79.0, 52.2), (79.3, 50.3), (78.7, 48.5), (79.5, 47.5), (80.0, 46.6), (78.5, 50.3), (79.2, 44.7), (79.7, 49.4),
    (78.8, 51.2), (79.1, 47.8), (79.6, 50.9), (80.2, 48.3),
    (84.4, 98.8), (84.4, 95), (84.5, 93.6),
    (85.6, 48.5), (85.9, 45.7), (86.2, 50.3), (86.5, 43.8), (86.8, 52.2), (85.4, 41.9), (86.0, 39.1), (86.7, 47.5),
    (87.0, 51.3), (85.5, 44.7), (86.9, 8.9),
    (85.7, 50.4), (86.1, 47.2), (86.4, 51.6), (86.9, 45.8),
    (92.1, 48.5), (92.5, 44.7), (92.9, 41.9), (92.3, 39.1), (92.7, 51.3), (93.1, 46.6), (94.1, 2.2),
    (92.2, 45.8), (92.6, 42.5), (93.0, 49.4),
    (98.7, 57.8), (98.9, 54), (99.0, 50.3), (98.7, 46.6), (99.1, 42.9), (98.8, 39.1),
]

# ---------------- styling ----------------
ORANGE = '#EC5214'
GREEN = '#00984A'
PURPLE = '#3C1E7C'
GRID = '#303030'
TICKC = '#6E6E6E'

W, H = 1097, 765
fig = plt.figure(figsize=(W / 100, H / 100), dpi=100)
L, R, T, B = 61, 1060, 90, 680
rect = [L / W, 1 - B / H, (R - L) / W, (B - T) / H]

ax = fig.add_axes(rect)
ax.set_xlim(x_start, x_stop)
ax.set_ylim(0, 110)
ax2 = ax.twinx()
ax2.set_ylim(0, 200)
ax3 = ax.twinx()
ax3.set_ylim(0, 110)

for a in (ax, ax2, ax3):
    a.patch.set_visible(False)
    for s in a.spines.values():
        s.set_visible(False)

ax.spines['top'].set_visible(True)
ax.spines['top'].set_color('#222222')
ax.spines['top'].set_linewidth(1.0)
ax.spines['left'].set_visible(True)
ax.spines['left'].set_color('#222222')
ax.spines['left'].set_linewidth(1.0)
ax.spines['bottom'].set_visible(True)
ax.spines['bottom'].set_color('#8A8A8A')
ax.spines['bottom'].set_linewidth(1.6)

for d in grid_days:
    ax.axvline(d, color=GRID, lw=0.9, zorder=0.5)
for v in grid_levels:
    ax.axhline(v, color=GRID, lw=0.9, zorder=0.5)

ax.xaxis.set_major_locator(FixedLocator(major_days))
ax.xaxis.set_major_formatter(FixedFormatter(major_labels))
ax.xaxis.set_minor_locator(MultipleLocator(1))
ax.tick_params(axis='x', which='major', direction='out', length=8.6, width=1.0, color=TICKC,
               labelsize=FS, pad=12)
ax.tick_params(axis='x', which='minor', direction='out', length=4.3, width=1.0, color=TICKC)

ax.yaxis.set_major_locator(MultipleLocator(10))
ax.yaxis.set_minor_locator(MultipleLocator(1))
ax.tick_params(axis='y', which='major', direction='out', length=7.2, width=1.0, color='#444444',
               labelsize=FS, pad=3.5)
ax.tick_params(axis='y', which='minor', direction='out', length=4.0, width=0.9, color='#444444')

ax2.yaxis.set_ticks_position('left')
ax2.yaxis.set_label_position('left')
ax2.spines['left'].set_position(('axes', (562 - L) / (R - L)))
ax2.spines['left'].set_visible(True)
ax2.spines['left'].set_color('none')
ax2.yaxis.set_major_locator(FixedLocator(list(range(20, 201, 20))))
ax2.yaxis.set_minor_locator(MultipleLocator(2))
ax2.tick_params(axis='y', which='major', direction='out', length=9.4, width=1.0, color='#666666',
                labelsize=FS, pad=6)
ax2.tick_params(axis='y', which='minor', direction='out', length=5.0, width=1.0, color='#888888')

ax3.yaxis.set_ticks_position('left')
ax3.yaxis.set_label_position('left')
ax3.spines['left'].set_position(('axes', 1.0))
ax3.spines['left'].set_visible(True)
ax3.spines['left'].set_color('#777777')
ax3.spines['left'].set_linewidth(1.0)
ax3.yaxis.set_major_locator(FixedLocator(list(range(10, 111, 10))))
ax3.yaxis.set_minor_locator(MultipleLocator(1))
ax3.tick_params(axis='y', which='major', direction='out', length=8.6, width=1.0, color='#555555',
                labelsize=FS, pad=7)
ax3.tick_params(axis='y', which='minor', direction='out', length=3.8, width=0.9, color='#555555')
ax3.set_ylim(0, 110)

# ---------------- data marks ----------------
gx = [p[0] for p in gw_plateau] + [p[0] for p in gw_scatter]
gy = [p[1] for p in gw_plateau] + [p[1] for p in gw_scatter]
ax.plot(gx, gy, ls='none', marker='o', mfc='none', mec=ORANGE, ms=4.6, mew=1.0, clip_on=False, zorder=3)

rw_all = rw_idle + rw_idle_hi + rw_flow
ax2.plot([p[0] for p in rw_all], [p[1] for p in rw_all], ls='none', marker='+', color=GREEN,
         ms=6.0, mew=1.1, clip_on=False, zorder=3)

fw_all = fw_zero + fw_flow
ax3.plot([p[0] for p in fw_all], [p[1] for p in fw_all], ls='none', marker='x', color=PURPLE,
         ms=4.0, mew=1.1, clip_on=False, zorder=3)

# ---------------- texts and legend symbols ----------------
def ft(x, y, s, **kw):
    fig.text(x / W, 1 - y / H, s, **kw)

ft(527, 18, 'KFM08C', ha='center', va='center', fontsize=TS, fontweight='bold')
ft(10, 64, 'Groundwater [mvp]', ha='left', va='center', fontsize=FS)
ft(441, 62, 'Return water [L/min]', ha='left', va='center', fontsize=FS)
ft(1057, 69, 'Flushing water [L/min]', ha='right', va='center', fontsize=FS)
ft(1009, 718, 'month-day', ha='left', va='center', fontsize=FS)
ft(61, 745, 'START :06/01/30 13:00:00', ha='left', va='center', fontsize=FS - 0.5)
ft(815, 745, 'STOP :06/05/09 04:59:59', ha='left', va='center', fontsize=FS - 0.5)

fig.add_artist(Line2D([32 / W], [1 - 29 / H], transform=fig.transFigure, ls='none', marker='o',
                      mfc='none', mec=ORANGE, ms=4.6, mew=1.0))
fig.add_artist(Line2D([548 / W], [1 - 33 / H], transform=fig.transFigure, ls='none', marker='+',
                      color=GREEN, ms=6.0, mew=1.1))
fig.add_artist(Line2D([1040 / W], [1 - 32 / H], transform=fig.transFigure, ls='none', marker='x',
                      color=PURPLE, ms=4.0, mew=1.1))

fig.savefig('out.png', dpi=100)
